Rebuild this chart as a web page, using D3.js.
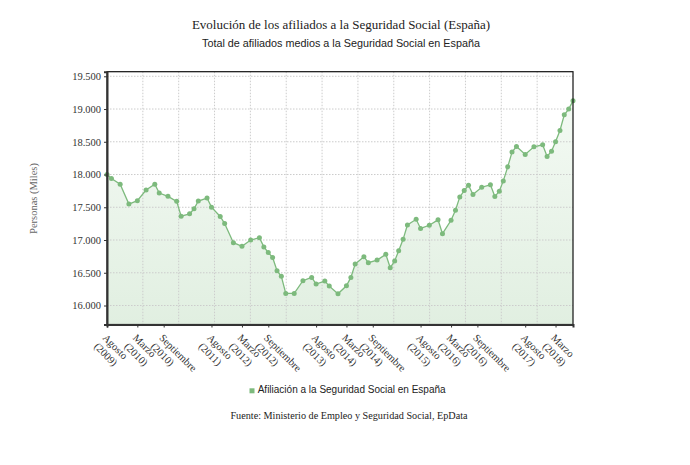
<!DOCTYPE html>
<html>
<head>
<meta charset="utf-8">
<script src="https://cdn.jsdelivr.net/npm/d3@7"></script>
<style>
  body { margin: 0; background: #fff; }
  #container { width: 690px; height: 465px; }
  text { font-family: 'Liberation Serif', 'Times New Roman', serif; }
  .sans { font-family: 'Liberation Sans', Arial, sans-serif; }
</style>
</head>
<body>
<div id="container"></div>
<script>
//### DATA ###
// Afiliados medios (miles)
const months = [
  '2009-08', '2009-09', '2009-11', '2010-01', '2010-03', '2010-05', '2010-07', '2010-08', '2010-10', '2010-12',
  '2011-01', '2011-03', '2011-04', '2011-05', '2011-07', '2011-08', '2011-10', '2011-11', '2012-01', '2012-03',
  '2012-05', '2012-07', '2012-08', '2012-09', '2012-10', '2012-11', '2012-12', '2013-01', '2013-03', '2013-05',
  '2013-07', '2013-08', '2013-10', '2013-11', '2014-01', '2014-03', '2014-04', '2014-05', '2014-07', '2014-08',
  '2014-10', '2014-12', '2015-01', '2015-02', '2015-03', '2015-04', '2015-05', '2015-07', '2015-08', '2015-10',
  '2015-12', '2016-01', '2016-03', '2016-04', '2016-05', '2016-06', '2016-07', '2016-08', '2016-10', '2016-12',
  '2017-01', '2017-02', '2017-03', '2017-04', '2017-05', '2017-06', '2017-08', '2017-10', '2017-12', '2018-01',
  '2018-02', '2018-03', '2018-04', '2018-05', '2018-06', '2018-07'
];
const values = [
  18000, 17938, 17851, 17549, 17600, 17764, 17851, 17718, 17667, 17590,
  17364, 17400, 17477, 17595, 17641, 17502, 17359, 17251, 16959, 16903,
  17000, 17036, 16895, 16808, 16734, 16532, 16445, 16184, 16184, 16378,
  16429, 16327, 16373, 16296, 16179, 16301, 16429, 16633, 16745, 16653,
  16694, 16781, 16577, 16679, 16837, 17010, 17230, 17316, 17177, 17225,
  17308, 17097, 17301, 17454, 17658, 17755, 17837, 17694, 17806, 17842,
  17663, 17745, 17903, 18117, 18342, 18428, 18306, 18423, 18454, 18275,
  18357, 18500, 18673, 18913, 19000, 19127
];

const tickMonths = [
  '2009-08', '2010-03', '2010-09', '2011-08', '2012-03', '2012-09', '2013-08',
  '2014-03', '2014-09', '2015-08', '2016-03', '2016-09', '2017-08', '2018-03'
];
const tickLabels = [
  'Agosto (2009)', 'Marzo (2010)', 'Septiembre (2010)', 'Agosto (2011)', 'Marzo (2012)', 'Septiembre (2012)', 'Agosto (2013)',
  'Marzo (2014)', 'Septiembre (2014)', 'Agosto (2015)', 'Marzo (2016)', 'Septiembre (2016)', 'Agosto (2017)', 'Marzo (2018)'
];
const yTicks = [ 16000, 16500, 17000, 17500, 18000, 18500, 19000, 19500 ];
const yDomain = [ 15710, 19570 ];

const seriesName = 'Afiliación a la Seguridad Social en España';
const title = 'Evolución de los afiliados a la Seguridad Social (España)';
const subtitle = 'Total de afiliados medios a la Seguridad Social en España';
const source = 'Fuente: Ministerio de Empleo y Seguridad Social, EpData';
const yLabel = 'Personas (Miles)';


//### CREATE THE VISUALIZATION ###
const margin = { top: 71.7, right: 117, bottom: 140.5, left: 107 };
const totalWidth = 690;
const totalHeight = 465;
const width = totalWidth - margin.left - margin.right;
const height = totalHeight - margin.top - margin.bottom;
const green = '#7dba7d';

const parseMonth = d3.timeParse( '%Y-%m' );
const data = months.map( ( m, i ) => ( { date: parseMonth( m ), value: values[ i ] } ) );

//_____ SCALES _____
const xScale = d3.scaleTime()
  .domain( d3.extent( data, d => d.date ) )
  .range( [ 0, width ] );

const yScale = d3.scaleLinear()
  .domain( yDomain )
  .range( [ height, 0 ] );

const esLocale = d3.formatLocale( { decimal: ',', thousands: '.', grouping: [ 3 ], currency: [ '', '€' ] } );
const yFormat = esLocale.format( ',d' );

//_____ SVG _____
const root = d3.select( '#container' )
  .append( 'svg' )
  .attr( 'width', totalWidth )
  .attr( 'height', totalHeight );

const svg = root.append( 'g' )
  .attr( 'transform', `translate(${margin.left}, ${margin.top})` );

//>>> Gradient for the area
const grad = root.append( 'defs' ).append( 'linearGradient' )
  .attr( 'id', 'areaFill' )
  .attr( 'gradientUnits', 'userSpaceOnUse' )
  .attr( 'x1', 0 ).attr( 'y1', 0 )
  .attr( 'x2', 0 ).attr( 'y2', height );
grad.append( 'stop' ).attr( 'offset', '0%' ).attr( 'stop-color', '#f6fbf6' );
grad.append( 'stop' ).attr( 'offset', '100%' ).attr( 'stop-color', '#e1efe1' );

//_____ AREA _____
const area = d3.area()
  .x( d => xScale( d.date ) )
  .y0( height )
  .y1( d => yScale( d.value ) );

svg.append( 'path' )
  .datum( data )
  .attr( 'd', area )
  .attr( 'fill', 'url(#areaFill)' );

//_____ GRID _____
svg.append( 'g' )
  .selectAll( 'line' )
  .data( yTicks )
  .enter()
  .append( 'line' )
  .attr( 'x1', 0 )
  .attr( 'x2', width )
  .attr( 'y1', d => yScale( d ) )
  .attr( 'y2', d => yScale( d ) )
  .attr( 'stroke', '#cccccc' )
  .attr( 'stroke-dasharray', '1.5,1.5' );

//>>> vertical grid splits the plot in 13 equal parts
svg.append( 'g' )
  .selectAll( 'line' )
  .data( d3.range( 1, 13 ) )
  .enter()
  .append( 'line' )
  .attr( 'x1', d => d * width / 13 )
  .attr( 'x2', d => d * width / 13 )
  .attr( 'y1', 0 )
  .attr( 'y2', height )
  .attr( 'stroke', '#cccccc' )
  .attr( 'stroke-dasharray', '1.5,1.5' );

//_____ LINE + MARKERS _____
const line = d3.line()
  .x( d => xScale( d.date ) )
  .y( d => yScale( d.value ) );

svg.append( 'path' )
  .datum( data )
  .attr( 'd', line )
  .attr( 'fill', 'none' )
  .attr( 'stroke', green )
  .attr( 'stroke-width', 1.3 );

svg.selectAll( '.dot' )
  .data( data )
  .enter()
  .append( 'circle' )
  .attr( 'class', 'dot' )
  .attr( 'cx', d => xScale( d.date ) )
  .attr( 'cy', d => yScale( d.value ) )
  .attr( 'r', 2.5 )
  .attr( 'fill', green );

//_____ FRAME _____
svg.append( 'rect' )
  .attr( 'width', width )
  .attr( 'height', height )
  .attr( 'fill', 'none' )
  .attr( 'stroke', '#111' )
  .attr( 'stroke-width', 1.2 );

//_____ AXES _____
//>>> Y-axis
const yAxis = d3.axisLeft( yScale )
  .tickValues( yTicks )
  .tickFormat( yFormat )
  .tickSize( 3 )
  .tickPadding( 3 );

const gy = svg.append( 'g' )
  .attr( 'id', 'y-axis' )
  .call( yAxis );
gy.select( '.domain' ).attr( 'stroke', '#333' ).attr( 'stroke-width', 2 );
gy.selectAll( '.tick line' ).attr( 'stroke', '#333' );
gy.selectAll( '.tick text' )
  .style( 'font-family', "'Liberation Serif', serif" )
  .style( 'font-size', '10.5px' )
  .attr( 'fill', '#333' );

//>>> X-axis
const xAxis = d3.axisBottom( xScale )
  .tickValues( tickMonths.map( parseMonth ) )
  .tickSize( 3 )
  .tickFormat( '' );

const gx = svg.append( 'g' )
  .attr( 'id', 'x-axis' )
  .attr( 'transform', `translate(0, ${height})` )
  .call( xAxis );
gx.select( '.domain' ).attr( 'stroke', '#333' ).attr( 'stroke-width', 2 );
gx.selectAll( '.tick line' ).attr( 'stroke', '#333' );

//>>> Rotated two-line labels
const xLabels = svg.append( 'g' )
  .selectAll( 'text' )
  .data( tickMonths )
  .enter()
  .append( 'text' )
  .attr( 'transform', d => `translate(${xScale( parseMonth( d ) ) - 5}, ${height + 14}) rotate(45)` )
  .style( 'font-size', '10.5px' )
  .attr( 'fill', '#333' );

xLabels.each( function ( d, i ) {
  const parts = tickLabels[ i ].split( ' ' );
  const t = d3.select( this );
  t.append( 'tspan' ).attr( 'x', 0 ).attr( 'dy', 0 ).text( parts[ 0 ] );
  t.append( 'tspan' ).attr( 'x', 0 ).attr( 'dy', '1.15em' ).text( parts[ 1 ] );
} );

//>>> Y label
root.append( 'text' )
  .attr( 'transform', `translate(37, 198.5) rotate(-90)` )
  .attr( 'text-anchor', 'middle' )
  .style( 'font-size', '10.5px' )
  .attr( 'fill', '#666' )
  .text( yLabel );

//_____ TITLES _____
root.append( 'text' )
  .attr( 'x', 341 )
  .attr( 'y', 29.3 )
  .attr( 'text-anchor', 'middle' )
  .style( 'font-size', '13px' )
  .attr( 'fill', '#222' )
  .text( title );

root.append( 'text' )
  .attr( 'class', 'sans' )
  .attr( 'x', 341 )
  .attr( 'y', 46.7 )
  .attr( 'text-anchor', 'middle' )
  .style( 'font-size', '10.8px' )
  .attr( 'fill', '#222' )
  .text( subtitle );

//_____ LEGEND _____
root.append( 'rect' )
  .attr( 'x', 249.5 )
  .attr( 'y', 388.3 )
  .attr( 'width', 5 )
  .attr( 'height', 5 )
  .attr( 'fill', green );

root.append( 'text' )
  .attr( 'class', 'sans' )
  .attr( 'x', 257.7 )
  .attr( 'y', 393.3 )
  .style( 'font-size', '10px' )
  .attr( 'fill', '#222' )
  .text( seriesName );

//_____ SOURCE _____
root.append( 'text' )
  .attr( 'x', 349 )
  .attr( 'y', 419 )
  .attr( 'text-anchor', 'middle' )
  .style( 'font-size', '10.2px' )
  .attr( 'fill', '#222' )
  .text( source );
</script>
</body>
</html>
